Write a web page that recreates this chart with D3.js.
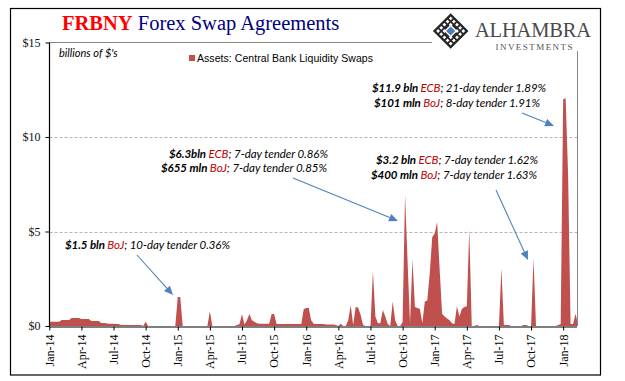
<!DOCTYPE html>
<html><head><meta charset="utf-8">
<script src="https://cdn.jsdelivr.net/npm/d3@7/dist/d3.min.js"></script>
<style>html,body{margin:0;padding:0;background:#fff}svg{display:block}</style>
</head><body><svg id="c" width="625" height="381"></svg>
<script>
// Weekly series, billions of dollars
const swaps = [
.22,.22,.22,.22,.22,.32,.32,.32,.32,.42,.42,.42,.42,.37,.37,.37,.37,.26,.26,.26,
.26,.16,.16,.14,.12,.12,.12,.1,.1,.05,.05,.05,.05,.05,.05,.05,.05,.05,0,.22,
0,0,0,0,0,0,0,0,0,0,0,0,1.53,1.53,0,0,0,0,0,0,
0,0,0,0,0,.78,0,0,0,0,0,0,0,0,0,0,.05,.1,.63,.08,
.3,.63,.3,.22,.15,.12,.12,.12,.12,.12,.63,.63,.1,.1,.1,.1,.1,.1,.1,.1,
.1,.1,.1,.9,.95,.97,.3,.12,.1,.1,.1,.1,.08,.08,.08,.08,.05,0,.12,0,
0,.3,1.1,.05,1.0,.98,.6,.05,0,0,0,2.9,.5,.15,.15,.85,.5,.1,0,1.3,
.3,0,0,.2,6.95,3.5,.15,3.5,1.0,.95,.9,.15,1.3,1.35,2.8,4.7,4.9,5.5,3.0,.65,
.5,.4,.3,.15,.1,1.05,.5,.9,1.0,1.05,5.1,0,0,.05,0,0,0,0,0,0,
0,0,0,3.05,.05,.05,.05,0,0,0,0,0,.05,.05,0,0,3.58,0,0,0,
0,0,0,0,0,0,.05,.1,12.0,12.05,8,.1,.1,.65,.1
];
const tickWeeks = [0,13,26,39,52,65,78,91,104,117,130,143,156,169,182,195,208];
const tickLabels = ["Jan-14","Apr-14","Jul-14","Oct-14","Jan-15","Apr-15","Jul-15","Oct-15","Jan-16","Apr-16","Jul-16","Oct-16","Jan-17","Apr-17","Jul-17","Oct-17","Jan-18"];
const yTicks = [0,5,10,15];
const yLabels = ["$0","$5","$10","$15"];
const legendLabel = "Assets: Central Bank Liquidity Swaps";
const unitLabel = "billions of $'s";
const titleRed = "FRBNY";
const titleBlue = " Forex Swap Agreements";

const notes = [
 {x:65, y:249, w:165, parts:[["$1.5 bln ","b"],["BoJ","r"],["; 10-day tender 0.36%","n"]]},
 {x:169,y:158, w:159, parts:[["$6.3bln ","b"],["ECB","r"],["; 7-day tender 0.86%","n"]]},
 {x:161,y:172, w:166, parts:[["$655 mln ","b"],["BoJ","r"],["; 7-day tender 0.85%","n"]]},
 {x:376,y:164, w:162, parts:[["$3.2 bln ","b"],["ECB","r"],["; 7-day tender 1.62%","n"]]},
 {x:371,y:179, w:166, parts:[["$400 mln ","b"],["BoJ","r"],["; 7-day tender 1.63%","n"]]},
 {x:372,y:92,  w:174, parts:[["$11.9 bln ","b"],["ECB","r"],["; 21-day tender 1.89%","n"]]},
 {x:374,y:107, w:166, parts:[["$101 mln ","b"],["BoJ","r"],["; 8-day tender 1.91%","n"]]}
];
const arrows = [[137,255,173,295],[293,178,398,221],[496,190,528,260],[522,113,554,126]];

const svg = d3.select("#c");
const x = d3.scaleLinear().domain([0,213.6]).range([49.3,577]);
const y = d3.scaleLinear().domain([0,15]).range([326,42.5]);

// frame
svg.append("rect").attr("x",10.5).attr("y",8.5).attr("width",590).attr("height",366.5)
  .attr("fill","#fff").attr("stroke","#000").attr("stroke-width",1.2);

// grid
svg.append("g").selectAll("line").data([5,10]).join("line")
  .attr("x1",49.5).attr("x2",577).attr("y1",d=>Math.round(y(d))+.5).attr("y2",d=>Math.round(y(d))+.5)
  .attr("stroke","#b5b5b5").attr("stroke-dasharray","3 2");
svg.append("line").attr("x1",49.5).attr("x2",432).attr("y1",42.5).attr("y2",42.5).attr("stroke","#868686");
svg.append("line").attr("x1",577.5).attr("x2",577.5).attr("y1",51).attr("y2",326).attr("stroke","#868686");

// area
svg.append("clipPath").attr("id","plot").append("rect").attr("x",49).attr("y",40).attr("width",528).attr("height",286);
svg.append("path").datum(swaps).attr("clip-path","url(#plot)")
  .attr("fill","#c0504d")
  .attr("d",d3.area().x((d,i)=>x(i)).y0(y(0)).y1(d=>y(d)));

// axes
const ax = svg.append("g").attr("transform","translate(0,326.5)")
  .call(d3.axisBottom(x).tickValues(tickWeeks).tickFormat((d,i)=>tickLabels[i]).tickSize(4).tickPadding(3));
ax.select(".domain").attr("d","M49,0.5H577").attr("stroke","#000").attr("stroke-width",1.2);
ax.selectAll(".tick line").attr("stroke","#000");
ax.selectAll("text").attr("font-family","'Liberation Serif'").attr("font-size",12).attr("fill","#000")
  .attr("text-anchor","end").attr("transform","rotate(-90)").attr("x",-8).attr("y",0).attr("dy","0.32em");

const ay = svg.append("g").attr("transform","translate(49.5,0)")
  .call(d3.axisLeft(y).tickValues(yTicks).tickFormat((d,i)=>yLabels[i]).tickSize(4).tickPadding(5));
ay.select(".domain").attr("d","M0,42.5V327").attr("stroke","#000").attr("stroke-width",1.2);
ay.selectAll(".tick line").attr("stroke","#000");
ay.selectAll("text").attr("font-family","'Liberation Serif'").attr("font-size",12).attr("fill","#111");

// title
const t = svg.append("text").attr("x",62).attr("y",30).attr("font-family","'Liberation Serif'").attr("font-size",20.5);
t.append("tspan").attr("fill","#ff0000").attr("font-weight","bold").text(titleRed);
t.append("tspan").attr("fill","#000080").attr("xml:space","preserve").text(titleBlue);

// labels
svg.append("text").attr("x",59).attr("y",57).attr("font-family","Lato").attr("font-style","italic").attr("font-size",11).attr("fill","#000").text(unitLabel);
svg.append("rect").attr("x",189).attr("y",55).attr("width",6).attr("height",6).attr("fill","#c0504d");
svg.append("text").attr("x",197).attr("y",62).attr("font-family","'Liberation Sans'").attr("font-size",10.5).attr("fill","#000")
  .attr("textLength",176).attr("lengthAdjust","spacing").text(legendLabel);

// annotations
const nt = svg.append("g").selectAll("text").data(notes).join("text")
  .attr("x",d=>d.x).attr("y",d=>d.y).attr("textLength",d=>d.w).attr("lengthAdjust","spacing")
  .attr("font-family","Lato").attr("font-style","italic").attr("font-size",11.5).attr("fill","#000");
nt.selectAll("tspan").data(d=>d.parts).join("tspan")
  .attr("font-weight",d=>d[1]==="b"?"bold":"normal")
  .attr("fill",d=>d[1]==="r"?"#c00000":"#000")
  .text(d=>d[0]);

// arrows
const ag = svg.append("g");
arrows.forEach(a=>{
  const ang=Math.atan2(a[3]-a[1],a[2]-a[0]), L=9, W=4;
  const bx=a[2]-L*Math.cos(ang), by=a[3]-L*Math.sin(ang);
  ag.append("line").attr("x1",a[0]).attr("y1",a[1]).attr("x2",bx).attr("y2",by).attr("stroke","#4f81bd").attr("stroke-width",1.1);
  ag.append("polygon").attr("fill","#4f81bd").attr("points",[
    [a[2],a[3]],
    [bx-W*Math.sin(ang),by+W*Math.cos(ang)],
    [bx+W*Math.sin(ang),by-W*Math.cos(ang)]
  ].join(" "));
});

// logo: dark lattice diamond with white holes and a blue centre
const lg = svg.append("g").attr("transform","translate(450.7,31)");
const dia = r=>`M0,${-r}L${r},0L0,${r}L${-r},0Z`;
lg.append("path").attr("d",dia(17.8)).attr("fill","#262626");
d3.range(-2,3).forEach(u=>d3.range(-2,3).forEach(v=>{
  if (Math.abs(u)<=1 && Math.abs(v)<=1 && u*v===0) return;
  lg.append("path").attr("d",dia(1.9)).attr("fill","#fff")
    .attr("transform",`translate(${(u-v)*3.15},${(u+v)*3.15})`);
}));
lg.append("path").attr("d",dia(6.6)).attr("fill","#fff");
lg.append("path").attr("d",dia(4.6)).attr("fill","#4a7ebb");
svg.append("text").attr("x",475).attr("y",37).attr("font-family","'Liberation Serif'").attr("font-size",20.5).attr("fill","#4a4a4a")
  .attr("textLength",116).attr("lengthAdjust","spacing").text("ALHAMBRA");
svg.append("text").attr("x",495.5).attr("y",49.5).attr("font-family","'Liberation Serif'").attr("font-size",9).attr("fill","#555")
  .attr("textLength",77).attr("lengthAdjust","spacing").text("INVESTMENTS");
</script></body></html>
